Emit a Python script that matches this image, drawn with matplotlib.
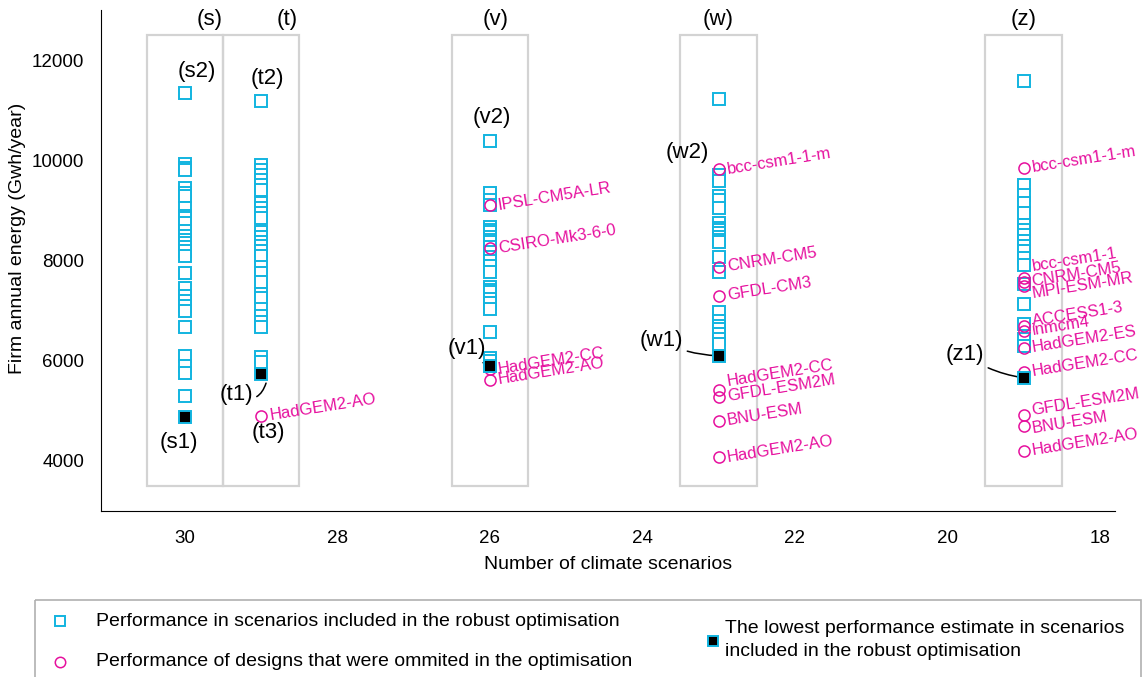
import matplotlib
matplotlib.use('Agg')
import matplotlib.pyplot as plt
from matplotlib.patches import Rectangle

plt.rcParams['font.family'] = ['Liberation Sans', 'DejaVu Sans']

cyan = '#12b4e0'
pink = '#e6109e'

# number of climate scenarios for each design group
groups = ['s', 't', 'v', 'w', 'z']
n_scen = [30, 29, 26, 23, 19]

# performance in scenarios included in the robust optimisation (Gwh/year)
sq_s = [11350, 9920, 9850, 9800, 9450, 9350, 9280, 9050, 8900, 8850, 8750, 8600, 8500, 8420,
        8350, 8280, 8200, 8100, 7750, 7450, 7300, 7200, 7100, 7000, 6680, 6100, 5900, 5750, 5300]
sq_t = [11180, 9900, 9800, 9700, 9600, 9500, 9400, 9140, 9050, 8950, 8850, 8570, 8470, 8370,
        8300, 8200, 8100, 7880, 7750, 7580, 7340, 7250, 7040, 6900, 6770, 6680, 6080, 5980]
sq_v = [10380, 9340, 9200, 9100, 8680, 8620, 8580, 8480, 8420, 8380, 8280, 8180, 8080, 8000,
        7900, 7780, 7480, 7420, 7380, 7240, 7150, 7040, 6580, 6050, 6000]
sq_w = [11230, 9700, 9580, 9280, 9200, 9040, 8760, 8660, 8620, 8560, 8480, 8420, 8380, 8080,
        7780, 6980, 6800, 6700, 6640, 6540, 6440, 6340]
sq_z = [11580, 9500, 9310, 9150, 8950, 8710, 8610, 8510, 8390, 8290, 8190, 8050, 7910, 7540,
        7140, 6740, 6440, 6300]
squares = [sq_s, sq_t, sq_v, sq_w, sq_z]

# lowest performance estimate per group
lowest = [4880, 5740, 5900, 6100, 5660]

# designs omitted in the optimisation (name, value) per group
om_t = [('HadGEM2-AO', 4900)]
om_v = [('IPSL-CM5A-LR', 9100), ('CSIRO-Mk3-6-0', 8250), ('HadGEM2-CC', 5830),
        ('HadGEM2-AO', 5620)]
om_w = [('bcc-csm1-1-m', 9820), ('CNRM-CM5', 7880), ('GFDL-CM3', 7300), ('HadGEM2-CC', 5420),
        ('GFDL-ESM2M', 5280), ('BNU-ESM', 4800), ('HadGEM2-AO', 4070)]
om_z = [('bcc-csm1-1-m', 9850), ('bcc-csm1-1', 7660), ('CNRM-CM5', 7580), ('MPI-ESM-MR', 7500),
        ('ACCESS1-3', 6700), ('inmcm4', 6600), ('HadGEM2-ES', 6260), ('HadGEM2-CC', 5780),
        ('GFDL-ESM2M', 4920), ('BNU-ESM', 4700), ('HadGEM2-AO', 4200)]
omitted = [[], om_t, om_v, om_w, om_z]

# small vertical nudges (points) for crowded labels
nudge = {(3, 'HadGEM2-CC'): 6, (4, 'bcc-csm1-1'): 8, (4, 'MPI-ESM-MR'): -6,
         (4, 'ACCESS1-3'): 3, (4, 'GFDL-ESM2M'): 3, (4, 'BNU-ESM'): -2}

fig = plt.figure(figsize=(11.44, 6.77), dpi=100)
ax = fig.add_axes([0.0883, 0.2452, 0.8864, 0.7398])

for i, x in enumerate(n_scen):
    ax.add_patch(Rectangle((x - 0.5, 3500), 1, 9000, fill=False, ec='#d3d3d3', lw=1.6, zorder=1))
    ax.plot([x] * len(squares[i]), squares[i], 's', ms=8, mfc='white', mec=cyan, mew=1.4,
            ls='none', zorder=3)
    ax.plot([x], [lowest[i]], 's', ms=8, mfc='black', mec=cyan, mew=1.4, zorder=5)
    for name, val in omitted[i]:
        ax.plot([x], [val], 'o', ms=8, mfc='none', mec=pink, mew=1.1, zorder=4)
        ax.annotate(name, (x, val), xytext=(6, nudge.get((i, name), 0)),
                    textcoords='offset points', color=pink, fontsize=12,
                    rotation=9, rotation_mode='anchor', ha='left', va='center')

# group labels
top_lbl = {'(s)': 29.67, '(t)': 28.66, '(v)': 25.92, '(w)': 23.0, '(z)': 19.0}
for t, x in top_lbl.items():
    ax.text(x, 12820, t, ha='center', va='center', fontsize=16)

pt_lbl = [('(s2)', 29.84, 11780), ('(t2)', 28.92, 11640), ('(t3)', 28.91, 4560),
          ('(s1)', 30.08, 4360), ('(v2)', 25.97, 10860), ('(w2)', 23.41, 10160)]
for t, x, y in pt_lbl:
    ax.text(x, y, t, ha='center', va='center', fontsize=16)

arrows = [('(v1)', 26.3, 6240, 26.0, 5900, 0.15), ('(w1)', 23.75, 6400, 23.0, 6100, 0.12),
          ('(z1)', 19.77, 6120, 19.0, 5660, 0.12), ('(t1)', 29.33, 5320, 28.93, 5580, 0.6)]
for t, tx, ty, x, y, rad in arrows:
    ax.annotate(t, (x, y), xytext=(tx, ty), fontsize=16, ha='center', va='center',
                arrowprops=dict(arrowstyle='-', color='black', lw=1.1,
                                connectionstyle=f'arc3,rad={rad}', shrinkA=1, shrinkB=1))

ax.set_xlim(31.1, 17.8)
ax.set_ylim(3000, 13000)
ax.set_xticks([30, 28, 26, 24, 22, 20, 18])
ax.set_yticks([4000, 6000, 8000, 10000, 12000])
ax.tick_params(length=0, labelsize=13.5)
ax.tick_params(axis='x', pad=14)
ax.tick_params(axis='y', pad=12)
ax.spines['top'].set_visible(False)
ax.spines['right'].set_visible(False)
ax.set_xlabel('Number of climate scenarios', fontsize=14, labelpad=6)
ax.set_ylabel('Firm annual energy (Gwh/year)', fontsize=14)
ax.yaxis.set_label_coords(-0.074, 0.545)

# legend drawn in pixel coordinates
lax = fig.add_axes([0, 0, 1, 1], facecolor='none')
lax.set_xlim(0, 1144)
lax.set_ylim(677, 0)
lax.axis('off')
lax.add_patch(Rectangle((35, 600), 1106, 90, fill=False, ec='#b0b0b0', lw=1.2))
lax.plot([60], [621], 's', ms=7.5, mfc='white', mec=cyan, mew=1.4)
lax.plot([60], [662], 'o', ms=7.5, mfc='none', mec=pink, mew=1.1)
lax.plot([713], [641], 's', ms=7.5, mfc='black', mec=cyan, mew=1.4)
lax.text(96, 621, 'Performance in scenarios included in the robust optimisation',
         fontsize=14, va='center')
lax.text(96, 662, 'Performance of designs that were ommited in the optimisation',
         fontsize=14, va='center')
lax.text(725, 640, 'The lowest performance estimate in scenarios\nincluded in the robust optimisation',
         fontsize=14, va='center', linespacing=1.45)

fig.savefig('out.png', dpi=100)
